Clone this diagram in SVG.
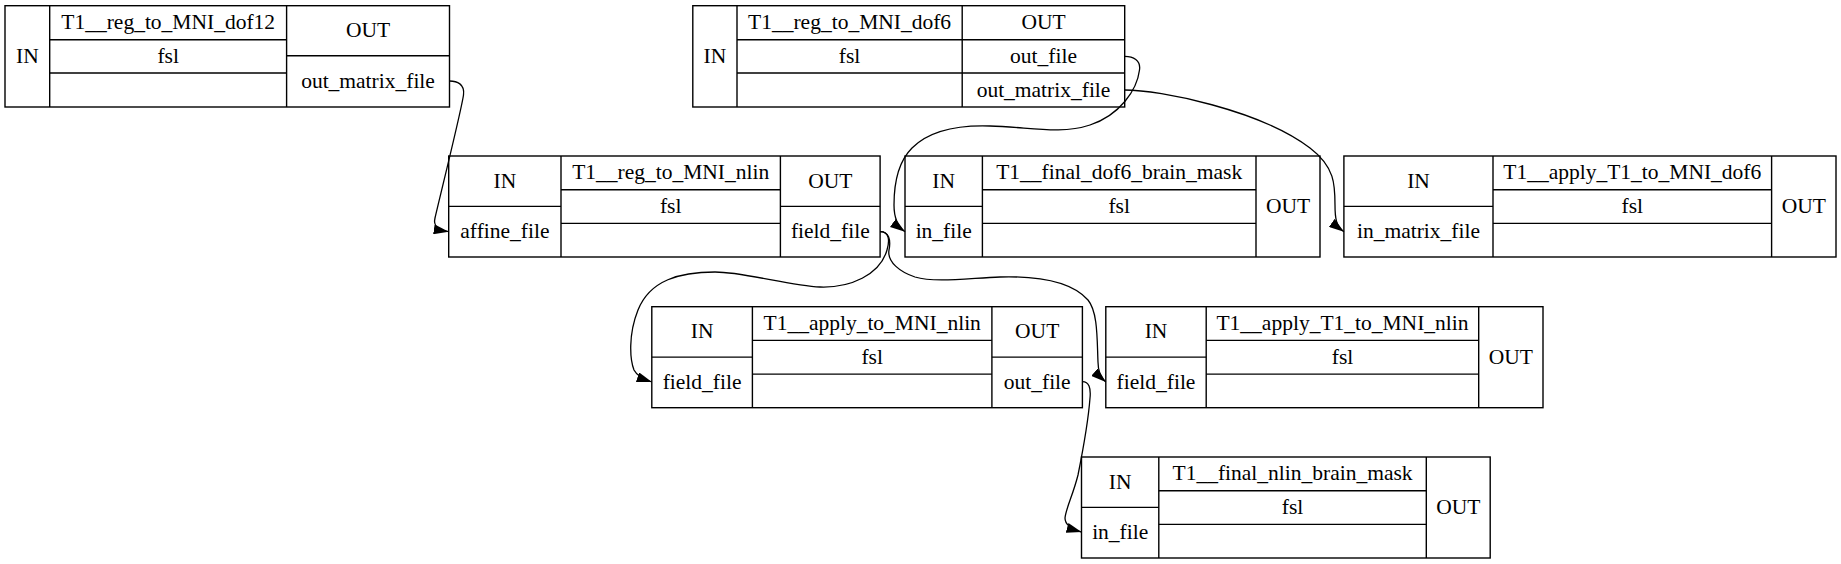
<svg xmlns="http://www.w3.org/2000/svg" width="1841" height="564" viewBox="0 0 1841 564">
<style>
.box{fill:none;stroke:#000;stroke-width:1.4}
.ln{stroke:#000;stroke-width:1.4}
text{font-family:"Liberation Serif","Times New Roman",serif;font-size:21.5px;fill:#000;text-anchor:middle}
.edge{fill:none;stroke:#000;stroke-width:1.3}
</style>
<defs>
<marker id="arr" markerUnits="userSpaceOnUse" viewBox="0 0 15 10" refX="15" refY="5" markerWidth="15" markerHeight="10" orient="auto">
<path d="M0,0 L15,5 L0,10 z" fill="#000"/>
</marker>
</defs>
<rect width="1841" height="564" fill="#fff"/>

<g id="T1__reg_to_MNI_dof12">
<rect class="box" x="5" y="5.7" width="444.5" height="101.3"/>
<line class="ln" x1="49.7" y1="5.7" x2="49.7" y2="107"/>
<line class="ln" x1="286.6" y1="5.7" x2="286.6" y2="107"/>
<line class="ln" x1="49.7" y1="39.7" x2="286.6" y2="39.7"/>
<line class="ln" x1="49.7" y1="73" x2="286.6" y2="73"/>
<line class="ln" x1="286.6" y1="55.7" x2="449.5" y2="55.7"/>
<text x="27.4" y="62.8">IN</text>
<text x="168.2" y="29.2">T1__reg_to_MNI_dof12</text>
<text x="168.2" y="62.8">fsl</text>
<text x="368" y="37.2">OUT</text>
<text x="368" y="87.8">out_matrix_file</text>
</g>

<g id="T1__reg_to_MNI_dof6">
<rect class="box" x="692.8" y="5.7" width="431.9" height="101.3"/>
<line class="ln" x1="737" y1="5.7" x2="737" y2="107"/>
<line class="ln" x1="962.2" y1="5.7" x2="962.2" y2="107"/>
<line class="ln" x1="737" y1="39.7" x2="1124.7" y2="39.7"/>
<line class="ln" x1="737" y1="73" x2="1124.7" y2="73"/>
<text x="714.9" y="62.8">IN</text>
<text x="849.6" y="29.2">T1__reg_to_MNI_dof6</text>
<text x="849.6" y="62.8">fsl</text>
<text x="1043.5" y="29.2">OUT</text>
<text x="1043.5" y="62.8">out_file</text>
<text x="1043.5" y="96.5">out_matrix_file</text>
</g>

<g id="T1__reg_to_MNI_nlin">
<rect class="box" x="448.7" y="156" width="431.4" height="101"/>
<line class="ln" x1="561" y1="156" x2="561" y2="257"/>
<line class="ln" x1="780.4" y1="156" x2="780.4" y2="257"/>
<line class="ln" x1="448.7" y1="206.4" x2="561" y2="206.4"/>
<line class="ln" x1="561" y1="189.7" x2="780.4" y2="189.7"/>
<line class="ln" x1="561" y1="223.4" x2="780.4" y2="223.4"/>
<line class="ln" x1="780.4" y1="206.4" x2="880.1" y2="206.4"/>
<text x="504.9" y="187.7">IN</text>
<text x="504.9" y="238.2">affine_file</text>
<text x="670.7" y="179.4">T1__reg_to_MNI_nlin</text>
<text x="670.7" y="213">fsl</text>
<text x="830.3" y="187.7">OUT</text>
<text x="830.3" y="238.2">field_file</text>
</g>

<g id="T1__final_dof6_brain_mask">
<rect class="box" x="905" y="156" width="415" height="101"/>
<line class="ln" x1="982.4" y1="156" x2="982.4" y2="257"/>
<line class="ln" x1="1256" y1="156" x2="1256" y2="257"/>
<line class="ln" x1="905" y1="206.4" x2="982.4" y2="206.4"/>
<line class="ln" x1="982.4" y1="189.7" x2="1256" y2="189.7"/>
<line class="ln" x1="982.4" y1="223.4" x2="1256" y2="223.4"/>
<text x="943.7" y="187.7">IN</text>
<text x="943.7" y="238.2">in_file</text>
<text x="1119.2" y="179.4">T1__final_dof6_brain_mask</text>
<text x="1119.2" y="213">fsl</text>
<text x="1288" y="213">OUT</text>
</g>

<g id="T1__apply_T1_to_MNI_dof6">
<rect class="box" x="1343.9" y="156" width="492.1" height="101"/>
<line class="ln" x1="1493" y1="156" x2="1493" y2="257"/>
<line class="ln" x1="1771.6" y1="156" x2="1771.6" y2="257"/>
<line class="ln" x1="1343.9" y1="206.4" x2="1493" y2="206.4"/>
<line class="ln" x1="1493" y1="189.7" x2="1771.6" y2="189.7"/>
<line class="ln" x1="1493" y1="223.4" x2="1771.6" y2="223.4"/>
<text x="1418.5" y="187.7">IN</text>
<text x="1418.5" y="238.2">in_matrix_file</text>
<text x="1632.3" y="179.4">T1__apply_T1_to_MNI_dof6</text>
<text x="1632.3" y="213">fsl</text>
<text x="1803.8" y="213">OUT</text>
</g>

<g id="T1__apply_to_MNI_nlin">
<rect class="box" x="651.8" y="306.7" width="430.6" height="101"/>
<line class="ln" x1="752.4" y1="306.7" x2="752.4" y2="407.7"/>
<line class="ln" x1="991.9" y1="306.7" x2="991.9" y2="407.7"/>
<line class="ln" x1="651.8" y1="357.1" x2="752.4" y2="357.1"/>
<line class="ln" x1="752.4" y1="340.4" x2="991.9" y2="340.4"/>
<line class="ln" x1="752.4" y1="374.1" x2="991.9" y2="374.1"/>
<line class="ln" x1="991.9" y1="357.1" x2="1082.4" y2="357.1"/>
<text x="702.1" y="338.4">IN</text>
<text x="702.1" y="388.9">field_file</text>
<text x="872.2" y="330.1">T1__apply_to_MNI_nlin</text>
<text x="872.2" y="363.7">fsl</text>
<text x="1037.2" y="338.4">OUT</text>
<text x="1037.2" y="388.9">out_file</text>
</g>

<g id="T1__apply_T1_to_MNI_nlin">
<rect class="box" x="1105.8" y="306.7" width="437.2" height="101"/>
<line class="ln" x1="1206.2" y1="306.7" x2="1206.2" y2="407.7"/>
<line class="ln" x1="1478.7" y1="306.7" x2="1478.7" y2="407.7"/>
<line class="ln" x1="1105.8" y1="357.1" x2="1206.2" y2="357.1"/>
<line class="ln" x1="1206.2" y1="340.4" x2="1478.7" y2="340.4"/>
<line class="ln" x1="1206.2" y1="374.1" x2="1478.7" y2="374.1"/>
<text x="1156" y="338.4">IN</text>
<text x="1156" y="388.9">field_file</text>
<text x="1342.5" y="330.1">T1__apply_T1_to_MNI_nlin</text>
<text x="1342.5" y="363.7">fsl</text>
<text x="1510.9" y="363.7">OUT</text>
</g>

<g id="T1__final_nlin_brain_mask">
<rect class="box" x="1081.5" y="457" width="408.7" height="101"/>
<line class="ln" x1="1158.8" y1="457" x2="1158.8" y2="558"/>
<line class="ln" x1="1426.3" y1="457" x2="1426.3" y2="558"/>
<line class="ln" x1="1081.5" y1="507.4" x2="1158.8" y2="507.4"/>
<line class="ln" x1="1158.8" y1="490.7" x2="1426.3" y2="490.7"/>
<line class="ln" x1="1158.8" y1="524.4" x2="1426.3" y2="524.4"/>
<text x="1120.2" y="488.7">IN</text>
<text x="1120.2" y="539.2">in_file</text>
<text x="1292.6" y="480.4">T1__final_nlin_brain_mask</text>
<text x="1292.6" y="514">fsl</text>
<text x="1458.3" y="514">OUT</text>
</g>

<g id="edges">
<path class="edge" marker-end="url(#arr)" d="M449.5,81 C457,81 465,84 463.5,95 C461,112 441,192 435,218 C433,226 438,230 448.7,231.7"/>
<path class="edge" marker-end="url(#arr)" d="M1124.7,56.3 C1133,56.3 1141,60 1139.5,70 C1137,90 1120,115 1090,125 C1060,135 1030,127 990,126 C960,125 930,130 912,148 C898,162 894,185 894,205 C894,218 897,226 905,231.7"/>
<path class="edge" marker-end="url(#arr)" d="M1124.7,90 C1160,90 1260,110 1310,148 C1335,167 1335,185 1335,205 C1335,218 1336,226 1343.9,231.7"/>
<path class="edge" marker-end="url(#arr)" d="M880.1,231.7 C889,231.7 890,240 887,250 C880,275 850,288 820,287 C790,286 745,272 715,272 C680,272 650,280 638,310 C628,335 630,360 634,370 C637,376 643,379 651.8,382"/>
<path class="edge" marker-end="url(#arr)" d="M880.1,231.7 C889,231.7 891,240 889,250 C887,262 900,272 915,277 C935,283 970,278 1000,277 C1035,276 1070,280 1088,300 C1098,312 1097,340 1098,362 C1098,371 1100,377 1105.8,382"/>
<path class="edge" marker-end="url(#arr)" d="M1082.4,381.7 C1089,381.7 1091,388 1090,398 C1088,425 1082,455 1078,475 C1073,495 1066,508 1065,518 C1065,525 1071,529 1081.5,532"/>
</g>
</svg>
